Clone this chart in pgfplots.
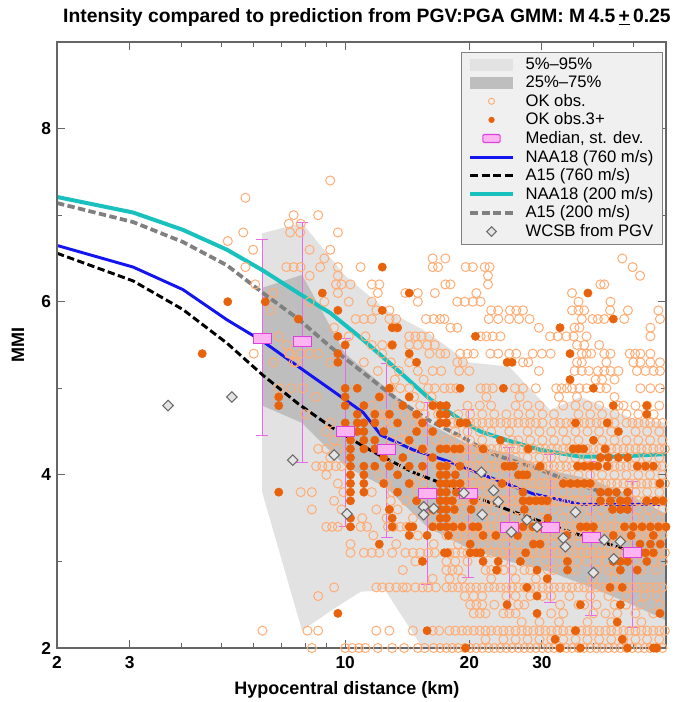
\documentclass[border=0pt]{standalone}
\usepackage{fontspec}
\setmainfont{Liberation Sans}
\usepackage{pgfplots}
\pgfplotsset{compat=1.18}
\definecolor{lightband}{HTML}{E2E2E2}
\definecolor{darkband}{HTML}{BEBEBE}
\definecolor{openor}{HTML}{FFAD75}
\definecolor{fillor}{HTML}{E8620C}
\definecolor{pinkfill}{HTML}{FFB4F2}
\definecolor{pinkedge}{HTML}{E040E0}
\definecolor{errmag}{HTML}{E86AE8}
\definecolor{naablue}{HTML}{1414F0}
\definecolor{naacyan}{HTML}{18C0BE}
\definecolor{agray}{HTML}{808080}
\definecolor{dfill}{HTML}{E4E4E4}
\definecolor{ddraw}{HTML}{6A6A6A}
\definecolor{legfill}{HTML}{F0F0F0}
\begin{document}
\begin{tikzpicture}
\begin{axis}[
  scale only axis, width=456.75pt, height=454.5pt,
  xmode=log, xmin=2, xmax=60, ymin=2, ymax=9,
  xtick={2,3,10,20,30}, xticklabels={2,3,10,20,30},
  minor xtick={4,5,6,7,8,9,40,50},
  ytick={2,4,6,8}, yticklabels={2,4,6,8}, minor ytick={3,5,7},
  tick align=inside, major tick length=6pt, minor tick length=4pt,
  axis on top,
  axis line style={draw=black!60, line width=0.8pt},
  every tick/.style={black!60, line width=0.8pt},
  ticklabel style={font=\fontsize{13}{15}\selectfont\bfseries},
  xticklabel style={yshift=-3pt},
  yticklabel style={xshift=-1pt},
  /pgf/number format/assume math mode=true,
  xlabel={Hypocentral distance (km)}, ylabel={MMI},
  label style={font=\fontsize{13.5}{16}\selectfont\bfseries},
  xlabel style={at={(axis description cs:0.476,-0.069)}, anchor=center},
  ylabel style={at={(axis description cs:-0.064,0.5)}, anchor=center},
  every axis title shift=0pt,
  title={Intensity compared to prediction from PGV:PGA GMM: M\,4.5\,\underline{+}\,0.25},
  title style={font=\fontsize{14.5}{17}\selectfont\bfseries, at={(axis description cs:0.509,1.04)}, anchor=center},
  legend style={at={(0.995,0.983)}, anchor=north east, fill=legfill, draw=black!50,
    font=\fontsize{12.5}{13}\selectfont, inner xsep=5pt, inner ysep=2pt, row sep=-0.6pt,
    /tikz/every odd column/.append style={column sep=6pt}},
  legend cell align=left,
]
% 5%-95% band
\addplot[fill=lightband, draw=none,
  legend image code/.code={\fill[lightband] (0pt,-4.5pt) rectangle (32pt,4.5pt);}]
  coordinates {(6.29,6.79)(7.86,6.91)(10,6.3)(12.6,5.9)(15.8,5.65)(19.9,5.3)(25,5.25)(31.4,4.75)(37.2,4.9)(39.5,4.85)(49.7,4.65)(60,4.6)
  (60,1.5)(18,1.5)(12.5,2.67)(10.9,2.65)(9.3,2.44)(7.86,2.2)(6.29,3.8)} -- cycle;
\addlegendentry{5\%--95\%}
% 25%-75% band
\addplot[fill=darkband, draw=none,
  legend image code/.code={\fill[darkband] (0pt,-4.5pt) rectangle (32pt,4.5pt);}]
  coordinates {(6.29,6.16)(7.86,6.31)(10,5.4)(12.6,5.0)(15.8,4.6)(19.9,4.35)(25,4.25)(31.4,4.05)(39.5,3.95)(49.7,3.75)(60,3.55)
  (60,2.32)(49.7,2.5)(39.5,2.7)(31.4,2.88)(25,3.0)(19.9,3.15)(15.8,3.4)(12.6,3.85)(10,4.1)(7.86,4.6)(6.29,4.8)} -- cycle;
\addlegendentry{25\%--75\%}
% OK obs (open)
\addplot[only marks, mark=o, mark size=3.4pt, color=openor, mark options={line width=0.75pt},
  legend image code/.code={\draw[openor, line width=0.7pt] (16pt,0pt) circle (2.3pt);}]
coordinates {
(5.73,7.2)(5.66,6.8)(5.19,6.7)(5.98,6.6)(5.73,6.4)(6.05,6.2)(6.0,5.4)(6.7,6.1)(6.9,5.6)(7.35,5.4)(6.9,5.0)(7.5,5.3)
(7.5,7.0)(7.3,6.9)(7.8,6.9)(8.6,7.0)(7.35,6.8)(7.78,6.8)(8.2,6.6)(8.9,6.5)(7.2,6.4)(7.5,6.4)(7.8,6.4)(8.7,6.4)(8.2,6.3)(8.2,6.0)(8.9,6.0)(7.2,5.5)(7.3,5.4)(7.8,5.4)(8.2,5.4)(8.6,5.4)(6.7,5.3)(7.6,5.3)
(6.6,5.9)(7.4,5.0)(7.9,5.0)(8.0,4.7)(8.5,4.9)(9.2,7.4)(9.6,6.8)(9.2,6.6)
(8.3,2)(10,2)(10.4,2)(10.8,2)(11.2,2)(12,2)(13,2)(13.9,2)(15,2)(15.6,2)(16.4,2)(17,2)
(17.6,2)(18.2,2)(18.8,2)(19.5,2)(20.1,2)(20.8,2)(21.5,2)(22.3,2)(23,2)(23.8,2)(24.6,2)(25.4,2)(26.3,2)(27.2,2)(28.1,2)(29,2)(30.1,2)(31.1,2)(32.1,2)(33.2,2)(34.4,2)(35.5,2)(36.8,2)(38,2)(39.3,2)(40.7,2)(42,2)(43.5,2)(45,2)(46.5,2)(48.1,2)(49.7,2)(51.4,2)(53.2,2)(54.9,2)(56.8,2)(58.8,2)
(21.9,2.1)(24.2,2.1)(25.9,2.1)(27.7,2.1)(29.6,2.1)(31.6,2.1)(33.8,2.1)(36.2,2.1)(38.7,2.1)(41.3,2.1)(44.2,2.1)(47.3,2.1)(50.6,2.1)(54,2.1)(57.8,2.1)
(6.3,2.2)(8.1,2.2)(8.6,2.2)(11.9,2.2)(12.8,2.2)(14.6,2.2)(16.3,2.2)(16.9,2.2)
(17.9,2.2)(18.5,2.2)(19.2,2.2)(19.8,2.2)(20.5,2.2)(21.2,2.2)(21.9,2.2)(22.6,2.2)(23.4,2.2)(24.2,2.2)(25,2.2)(25.9,2.2)(26.8,2.2)(27.7,2.2)(28.6,2.2)(29.6,2.2)(30.6,2.2)(31.6,2.2)(32.7,2.2)(33.8,2.2)(35,2.2)(36.2,2.2)(37.4,2.2)(38.7,2.2)(40,2.2)(41.3,2.2)(42.8,2.2)(44.2,2.2)(45.7,2.2)(47.3,2.2)(48.9,2.2)(50.6,2.2)(52.3,2.2)(54,2.2)(55.9,2.2)(57.8,2.2)(59.6,2.2)
(26.8,2.3)(29.6,2.3)(33,2.3)(38.7,2.3)(44.2,2.3)(52.3,2.3)
(20.5,2.4)(21.2,2.4)(21.9,2.4)(24.2,2.4)(25,2.4)(25.9,2.4)(31.6,2.4)(33.8,2.4)(40,2.4)(42.8,2.4)(45.7,2.4)(50.6,2.4)(55.9,2.4)
(20.1,2.5)(20.8,2.5)(21.5,2.5)(23,2.5)(26.3,2.5)(27.2,2.5)(33.2,2.5)(36.8,2.5)(38,2.5)(40.7,2.5)(45,2.5)(48,2.5)(52,2.5)(58,2.5)
(8.6,2.6)(19.5,2.6)(20.5,2.6)(21.5,2.6)(24.6,2.6)(25.9,2.6)(28.1,2.6)(30.1,2.6)(31.6,2.6)(35,2.6)(39.3,2.6)(43.5,2.6)(48.1,2.6)(53.2,2.6)(57,2.6)
(9.4,2.7)(11.9,2.7)(12.3,2.7)(12.8,2.7)(13.3,2.7)(13.8,2.7)(14.1,2.7)(14.8,2.7)(15.4,2.7)(15.9,2.7)(16.6,2.7)
(17.6,2.7)(18.2,2.7)(18.8,2.7)(19.5,2.7)(20.1,2.7)(20.8,2.7)(21.5,2.7)(22.3,2.7)(23,2.7)(23.8,2.7)(24.6,2.7)(25.4,2.7)(26.3,2.7)(27.2,2.7)(28.1,2.7)(29,2.7)(30.1,2.7)(31.1,2.7)(32.1,2.7)(33.2,2.7)(34.4,2.7)(35.5,2.7)(36.8,2.7)(38,2.7)(39.3,2.7)(40.7,2.7)(42,2.7)(43.5,2.7)(45,2.7)(46.5,2.7)(48.1,2.7)(49.7,2.7)(51.4,2.7)(53.2,2.7)(54.9,2.7)(56.8,2.7)(58.8,2.7)
(16.3,2.8)(17.9,2.8)(19.2,2.8)(22.6,2.8)(25.9,2.8)(29,2.8)(40,2.8)(45,2.8)
(13.8,2.9)(17.6,2.9)(18.2,2.9)(18.8,2.9)(21.9,2.9)(22.6,2.9)(23.4,2.9)(24.2,2.9)(25.4,2.9)(27.2,2.9)(28.1,2.9)(31,2.9)(32,2.9)(36.2,2.9)(40.7,2.9)(43.5,2.9)(44.9,2.9)(52.3,2.9)(56.8,2.9)
(14.8,3)(17.6,3)(18.5,3)(19.8,3)(24.2,3)(28,3)(30.6,3)(33.2,3)(36.5,3)(38.7,3)(41.3,3)(42.8,3)(50.6,3)(56,3)(59,3)
(10.3,3.1)(11.1,3.1)(11.6,3.1)(12.1,3.1)(13,3.1)(14,3.1)(14.6,3.1)(15.2,3.1)(15.9,3.1)(16.5,3.1)
(17.9,3.1)(18.5,3.1)(19.2,3.1)(19.8,3.1)(20.5,3.1)(21.2,3.1)(21.9,3.1)(22.6,3.1)(23.4,3.1)(24.2,3.1)(25,3.1)(25.9,3.1)(26.8,3.1)(27.7,3.1)(28.6,3.1)(29.6,3.1)(30.6,3.1)(31.6,3.1)(32.7,3.1)(33.8,3.1)(35,3.1)(36.2,3.1)(37.4,3.1)(38.7,3.1)(40,3.1)(41.3,3.1)(42.8,3.1)(44.2,3.1)(45.7,3.1)(47.3,3.1)(48.9,3.1)(50.6,3.1)(52.3,3.1)(54,3.1)(55.9,3.1)(57.8,3.1)(59.6,3.1)
(10.3,3.2)(13.3,3.2)(16.4,3.2)(18.8,3.2)(21.5,3.2)(23,3.2)(24.6,3.2)(26.3,3.2)(30.1,3.2)(32.1,3.2)(34.4,3.2)(36.8,3.2)(39.3,3.2)(42,3.2)(45,3.2)(48.1,3.2)
(11.7,3.3)(15,3.3)
(17.6,3.3)(18.2,3.3)(18.8,3.3)(19.5,3.3)(20.1,3.3)(20.8,3.3)(21.5,3.3)(22.3,3.3)(23,3.3)(23.8,3.3)(24.6,3.3)(25.4,3.3)(26.3,3.3)(27.2,3.3)(28.1,3.3)(29,3.3)(30.1,3.3)(31.1,3.3)(32.1,3.3)(33.2,3.3)(34.4,3.3)(35.5,3.3)(36.8,3.3)(38,3.3)(39.3,3.3)(40.7,3.3)(42,3.3)(43.5,3.3)(45,3.3)(46.5,3.3)(48.1,3.3)(49.7,3.3)(51.4,3.3)(53.2,3.3)(54.9,3.3)(56.8,3.3)(58.8,3.3)
(9,3.4)(9.3,3.4)(9.6,3.4)(10.9,3.4)(11.3,3.4)(12.7,3.4)(13.1,3.4)(13.6,3.4)(14.1,3.4)(16.6,3.4)
(17.9,3.4)(18.5,3.4)(19.2,3.4)(19.8,3.4)(20.5,3.4)(21.2,3.4)(21.9,3.4)(22.6,3.4)(23.4,3.4)(24.2,3.4)(25,3.4)(25.9,3.4)(26.8,3.4)(27.7,3.4)(28.6,3.4)(29.6,3.4)(30.6,3.4)(31.6,3.4)(32.7,3.4)(33.8,3.4)(35,3.4)(36.2,3.4)(37.4,3.4)(38.7,3.4)(40,3.4)(41.3,3.4)(42.8,3.4)(44.2,3.4)(45.7,3.4)(47.3,3.4)(48.9,3.4)(50.6,3.4)(52.3,3.4)(54,3.4)(55.9,3.4)(57.8,3.4)(59.6,3.4)
(11,3.5)(12.6,3.5)(14.6,3.5)(16.3,3.5)(18.5,3.5)(19.8,3.5)(22.6,3.5)(24.2,3.5)(25.9,3.5)(27.7,3.5)(29.6,3.5)(33.8,3.5)(36.2,3.5)(38.7,3.5)(41.3,3.5)(44.2,3.5)(50.6,3.5)(54,3.5)(57.8,3.5)
(8.3,3.6)(9.8,3.6)(11.9,3.6)(13.4,3.6)(15.8,3.6)(18.8,3.6)(21.5,3.6)(23,3.6)(24.6,3.6)(26.3,3.6)(28.1,3.6)(30.1,3.6)(32.1,3.6)(34.4,3.6)(36.8,3.6)(39.3,3.6)(42,3.6)(51.4,3.6)(54.9,3.6)(58.8,3.6)
(9.4,3.7)(12.9,3.7)(14,3.7)(15.1,3.7)
(17.6,3.7)(18.2,3.7)(18.8,3.7)(19.5,3.7)(20.1,3.7)(20.8,3.7)(21.5,3.7)(22.3,3.7)(23,3.7)(23.8,3.7)(24.6,3.7)(25.4,3.7)(26.3,3.7)(27.2,3.7)(28.1,3.7)(29,3.7)(30.1,3.7)(31.1,3.7)(32.1,3.7)(33.2,3.7)(34.4,3.7)(35.5,3.7)(36.8,3.7)(38,3.7)(39.3,3.7)(40.7,3.7)(42,3.7)(43.5,3.7)(45,3.7)(46.5,3.7)(48.1,3.7)(49.7,3.7)(51.4,3.7)(53.2,3.7)(54.9,3.7)(56.8,3.7)(58.8,3.7)
(7.8,3.8)(8.3,3.8)(9.9,3.8)(11.6,3.8)(13,3.8)(14.9,3.8)(16.1,3.8)(19.8,3.8)(21.2,3.8)(22.6,3.8)(24.2,3.8)(25.9,3.8)(29.6,3.8)(31.6,3.8)(33.8,3.8)(36.2,3.8)(38.7,3.8)(50.6,3.8)(54,3.8)(57.8,3.8)
(9.6,3.9)(12.6,3.9)(14.4,3.9)(15.5,3.9)
(17.9,3.9)(18.5,3.9)(19.2,3.9)(19.8,3.9)(20.5,3.9)(21.2,3.9)(21.9,3.9)(22.6,3.9)(23.4,3.9)(24.2,3.9)(25,3.9)(25.9,3.9)(26.8,3.9)(27.7,3.9)(28.6,3.9)(29.6,3.9)(30.6,3.9)(31.6,3.9)(32.7,3.9)(33.8,3.9)(35,3.9)(36.2,3.9)(37.4,3.9)(38.7,3.9)(40,3.9)(41.3,3.9)(42.8,3.9)(44.2,3.9)(45.7,3.9)(47.3,3.9)(48.9,3.9)(50.6,3.9)(52.3,3.9)(54,3.9)(55.9,3.9)(57.8,3.9)(59.6,3.9)
(9,4)(12.1,4)(15.2,4)(20.1,4)(21.5,4)(23,4)(24.6,4)(28.1,4)(30.1,4)(32.1,4)(34.4,4)(36.8,4)(39.3,4)(42,4)(45,4)(48.1,4)(51.4,4)(54.9,4)(58.8,4)
(8.5,4.1)(8.8,4.1)(9.1,4.1)(9.5,4.1)(9.8,4.1)(13.8,4.1)(16.8,4.1)
(17.6,4.1)(18.2,4.1)(18.8,4.1)(19.5,4.1)(20.1,4.1)(20.8,4.1)(21.5,4.1)(22.3,4.1)(23,4.1)(23.8,4.1)(24.6,4.1)(25.4,4.1)(26.3,4.1)(27.2,4.1)(28.1,4.1)(29,4.1)(30.1,4.1)(31.1,4.1)(32.1,4.1)(33.2,4.1)(34.4,4.1)(35.5,4.1)(36.8,4.1)(38,4.1)(39.3,4.1)(40.7,4.1)(42,4.1)(43.5,4.1)(45,4.1)(46.5,4.1)(48.1,4.1)(49.7,4.1)(51.4,4.1)(53.2,4.1)(54.9,4.1)(56.8,4.1)(58.8,4.1)
(9.2,4.2)(12.6,4.2)(16,4.2)(18.5,4.2)(19.8,4.2)(21.2,4.2)(22.6,4.2)(24.2,4.2)(25.9,4.2)(27.7,4.2)(29.6,4.2)(31.6,4.2)(33.8,4.2)(36.2,4.2)(38.7,4.2)(50.6,4.2)(54,4.2)(57.8,4.2)
(8.6,4.3)(9,4.3)(9.6,4.3)(14.6,4.3)(15.5,4.3)
(17.9,4.3)(18.5,4.3)(19.2,4.3)(19.8,4.3)(20.5,4.3)(21.2,4.3)(21.9,4.3)(22.6,4.3)(23.4,4.3)(24.2,4.3)(25,4.3)(25.9,4.3)(26.8,4.3)(27.7,4.3)(28.6,4.3)(29.6,4.3)(30.6,4.3)(31.6,4.3)(32.7,4.3)(33.8,4.3)(35,4.3)(36.2,4.3)(37.4,4.3)(38.7,4.3)(40,4.3)(41.3,4.3)(42.8,4.3)(44.2,4.3)(45.7,4.3)(47.3,4.3)(48.9,4.3)(50.6,4.3)(52.3,4.3)(54,4.3)(55.9,4.3)(57.8,4.3)(59.6,4.3)
(9.4,4.4)(12.9,4.4)(13.6,4.4)(16.6,4.4)(17.6,4.4)(18.8,4.4)(20.1,4.4)(21.5,4.4)(25.4,4.4)(26.3,4.4)(28.1,4.4)(30.1,4.4)(32.1,4.4)(34.4,4.4)(36.8,4.4)(42,4.4)(45,4.4)(48.1,4.4)(51.4,4.4)(54.9,4.4)(58.8,4.4)
(9,4.5)(13.9,4.5)(15.7,4.5)(18.5,4.5)(19.8,4.5)(21.2,4.5)(22.6,4.5)(25,4.5)(27.7,4.5)(29.6,4.5)(31.6,4.5)(33.8,4.5)(36.2,4.5)(38.7,4.5)(41.3,4.5)(44.2,4.5)(50.6,4.5)(54,4.5)(57.8,4.5)
(9.2,4.6)(12.3,4.6)(13,4.6)(14.6,4.6)(15.2,4.6)
(17.6,4.6)(18.2,4.6)(18.8,4.6)(19.5,4.6)(20.1,4.6)(20.8,4.6)(21.5,4.6)(22.3,4.6)(23,4.6)(23.8,4.6)(24.6,4.6)(25.4,4.6)(26.3,4.6)(27.2,4.6)(28.1,4.6)(29,4.6)(30.1,4.6)(32.1,4.6)(33.2,4.6)(34.4,4.6)(35.5,4.6)(36.8,4.6)(38,4.6)(39.3,4.6)(40.7,4.6)(42,4.6)(43.5,4.6)(45,4.6)(48.1,4.6)(49.7,4.6)(51.4,4.6)(53.2,4.6)(54.9,4.6)(56.8,4.6)(58.8,4.6)
(12,4.7)(12.6,4.7)(14,4.7)(15.6,4.7)(16.8,4.7)(18.8,4.7)(20.1,4.7)(21.5,4.7)(23,4.7)(24.6,4.7)(26.3,4.7)(28.1,4.7)(30.1,4.7)(32.1,4.7)(36.8,4.7)(39.3,4.7)(42,4.7)(45,4.7)(48.1,4.7)(51.4,4.7)(56,4.7)
(11.6,4.8)(13.4,4.8)(15.2,4.8)(16.4,4.8)(19.8,4.8)(21.2,4.8)(22.6,4.8)(25.9,4.8)(27.7,4.8)(29.6,4.8)(33.8,4.8)(36.2,4.8)(38.7,4.8)(41.3,4.8)(46,4.8)(47.3,4.8)(50.6,4.8)(54,4.8)(57.8,4.8)
(12.2,4.9)(14.7,4.9)(16.2,4.9)(22,4.9)(26.5,4.9)(33,4.9)(36.5,4.9)(45,4.9)
(12.9,5)(13.6,5)(14.3,5)(15.9,5)(16.5,5)(17.4,5)(18,5)(18.6,5)(21.3,5)(22,5)(22.8,5)(25.8,5)(27,5)(29,5)(32.5,5)(33.5,5)(34.5,5)(35.5,5)(37,5)(38.5,5)(41.5,5)(43,5)(52,5)(55,5)(58,5)
(13.2,5.1)(15.5,5.1)(40.5,5.1)(42,5.1)(45,5.1)
(12,5.2)(13.5,5.2)(15,5.2)(16.3,5.2)(17.1,5.2)(18.9,5.2)(20,5.2)(29.5,5.2)(36,5.2)(37.5,5.2)(39,5.2)(41,5.2)(42.5,5.2)(44,5.2)(46,5.2)(51,5.2)(53.5,5.2)(56,5.2)(58,5.2)
(9.2,5.3)(11.1,5.3)(12.9,5.3)(14.3,5.3)(18.7,5.3)(19.3,5.3)(27,5.3)(27.8,5.3)(36.5,5.3)(37.5,5.3)(43,5.3)(50,5.3)(52,5.3)(55,5.3)(58,5.3)
(12.3,5.4)(16,5.4)(17,5.4)(17.5,5.4)(19,5.4)(19.8,5.4)(20.5,5.4)(22.5,5.4)(23.5,5.4)(25,5.4)(26,5.4)(28.5,5.4)(30,5.4)(31.5,5.4)(37.5,5.4)(38.5,5.4)(39.5,5.4)(42.5,5.4)(44,5.4)(49,5.4)(50.5,5.4)(52,5.4)(55,5.4)
(11.6,5.5)(12.3,5.5)(13,5.5)(14.3,5.5)(15,5.5)(15.8,5.5)(16.5,5.5)(36.5,5.5)(38,5.5)(41.3,5.5)
(10.2,5.6)(11.2,5.6)(14.3,5.6)(14.8,5.6)(15.3,5.6)(16,5.6)(21.3,5.6)(22,5.6)(22.8,5.6)(23.8,5.6)(31.4,5.6)(32.8,5.6)(34.4,5.6)(35.8,5.6)(38.5,5.6)(55,5.6)
(9.4,5.7)(13.3,5.7)(18,5.7)(18.7,5.7)(29.5,5.7)(36,5.7)(37,5.7)(55,5.7)
(10.6,5.8)(11.1,5.8)(11.6,5.8)(12.8,5.8)(13.3,5.8)(15.7,5.8)(16.4,5.8)(17,5.8)(17.4,5.8)(22.3,5.8)(23.5,5.8)(25,5.8)(26.4,5.8)(28,5.8)(37.5,5.8)(39.8,5.8)(41,5.8)(42.5,5.8)(47.5,5.8)(58,5.8)
(11.9,5.9)(12.8,5.9)(22.6,5.9)(23.5,5.9)(25.1,5.9)(26,5.9)(27,5.9)(35.5,5.9)(36.8,5.9)(38,5.9)(43.9,5.9)(48.5,5.9)(57.5,5.9)
(10.2,6)(11.6,6)(15,6)(18.7,6)(19.5,6)(20.4,6)(21.3,6)(36.8,6)(44,6)
(9.6,6.1)(12,6.1)(14,6.1)(15,6.1)(16.5,6.1)(20.8,6.1)(35.5,6.1)
(9.5,6.2)(9.8,6.2)(10.3,6.2)(11.6,6.2)(12.1,6.2)(17.5,6.2)(18,6.2)(22.2,6.2)(41.6,6.2)(42.5,6.2)
(9.6,6.3)(22.2,6.3)(51.9,6.3)
(9.6,6.4)(10.9,6.4)(16.3,6.4)(16.8,6.4)(19.6,6.4)(20.4,6.4)(21.8,6.4)(22.4,6.4)(49.8,6.4)
(16.3,6.5)(17.5,6.5)(47,6.5)
};
\addlegendentry{OK obs.}
% OK obs 3+ (filled)
\addplot[only marks, mark=*, mark size=3.1pt, color=fillor, mark options={draw=fillor, fill=fillor},
  legend image code/.code={\fill[fillor] (16pt,0pt) circle (2.1pt);}]
coordinates {
(5.19,6.0)(4.5,5.4)(6.4,6.0)(7.7,5.8)(6.9,4.9)(6.9,4.8)(6.9,3.8)(8.8,6.1)(9.6,5.9)(9.6,5.6)(9.6,5.4)(9.6,5.3)(9.6,2.4)(12.3,6.4)(14.3,6.1)(12.3,5.9)(13,5.7)(13.4,5.7)(13,5.5)
(10,5.5)(10,5.0)(10,4.9)(10,4.8)(10,4.6)
(10.3,4.5)(10.3,4.4)(10.3,4.3)(10.3,4.2)(10.3,4.1)(10.3,4.0)(10.3,3.9)(10.3,3.8)(10.3,3.7)(10.3,3.5)(10.3,3.4)
(10.7,5.0)(10.7,4.7)(10.7,4.6)(10.7,4.5)
(11.1,4.8)(11.1,4.6)(11.1,4.5)(11.1,4.4)(11.1,4.3)(11.1,4.1)(11.1,4.0)(11.1,3.9)(11.1,3.8)
(11.8,4.7)(11.8,4.6)(11.8,4.4)(11.8,4.3)(11.8,4.1)
(12.1,3.2)(12.1,4.9)(12.4,4.5)(12.4,4.2)(12.4,3.9)
(12.8,5.0)(12.8,4.7)(12.8,4.3)(12.8,4.1)(12.8,3.6)(13,3.5)(13,3.4)
(13.4,4.6)(13.4,4.0)(13.4,3.8)(13.8,4.8)(13.8,4.2)
(14.3,5.4)(14.3,4.9)(14.3,4.4)(14.3,4.1)(14.3,3.9)(14.3,3.3)(14.3,3.4)(14.6,3.4)
(14.9,5.3)(14.9,4.7)(14.9,4.5)(14.9,3.7)
(15.4,4.6)(15.4,4.3)(15.4,4.1)(15.4,3.0)(15.8,2.2)(15.8,3.3)
(16.3,4.8)(16.3,4.5)(16.3,4.2)(16.3,3.8)(16.3,3.6)(16.3,3.4)(17.7,3.1)
(17.8,3.3)(21.6,3.3)(23.2,3.3)(26.2,3.3)(34.5,3.3)(40,3.3)(44.7,3.3)(49.4,3.3)(55.9,3.3)
(20.1,3.2)(28.6,3.2)(29.7,3.2)(51.9,3.2)(55,3.2)(58.1,3.2)
(17.4,3.1)(20.1,3.1)(20.8,3.1)(21.3,3.1)(27.4,3.1)(51.9,3.1)(53.5,3.1)(55.9,3.1)
(21.6,3.0)(23.5,3.0)(26.6,3.0)(34.6,3.0)(44.7,3.0)(46.5,3.0)(48.4,3.0)(53.9,3.0)
(23.3,2.9)(29.2,2.9)(34.6,2.9)(46.5,2.9)(51.1,2.9)
(30.9,2.8)(27.6,2.7)(43.9,2.7)(47,2.7)(29.2,2.6)(24.7,2.5)(37.2,2.5)(46.5,2.5)(29.2,2.4)(58,2.4)(45.7,2.3)(36.2,2.2)(32.3,2.1)(47,2.1)
(19.6,2.0)(33.2,2.0)(37.2,2.0)(48.4,2.0)(55.9,2.0)(57,2.0)
(17,4.8)(17.6,4.8)(53.9,4.8)(44.7,4.8)(17,4.7)(17.6,4.7)(53.9,4.7)
(17,4.6)(17.6,4.6)(19,4.6)(19.7,4.6)(36.2,4.6)(43.2,4.6)(46,4.5)(23.8,4.4)(40,4.4)
(17,4.3)(17.6,4.3)(18.4,4.3)(19,4.3)(21.6,4.3)(27.8,4.3)(35.7,4.3)(36.8,4.3)(37.9,4.3)(42.7,4.3)
(41.6,4.2)(43.5,4.2)(46,4.2)(48.4,4.2)
(17,4.1)(17.6,4.1)(19,4.1)(24.4,4.1)(25,4.1)(25.6,4.1)(29.7,4.1)(36.6,4.1)(38,4.1)(39.5,4.1)(41,4.1)(43.2,4.1)(51.1,4.1)(53.5,4.1)(55.9,4.1)
(17,4.0)(17.6,4.0)(18.5,4.0)(26.3,4.0)(27,4.0)(27.6,4.0)
(17,3.9)(17.6,3.9)(18.3,3.9)(19,3.9)(24,3.9)(33.8,3.9)(35.2,3.9)(36.6,3.9)(38,3.9)(39.3,3.9)(58,3.9)
(17,3.8)(17.6,3.8)(18.6,3.8)(27,3.8)(41.6,3.8)(43.5,3.8)(45.5,3.8)(48.4,3.8)
(17,3.7)(17.6,3.7)(18.2,3.7)(20.5,3.7)(27,3.7)(28,3.7)(29,3.7)(30,3.7)(30.9,3.7)(41.6,3.7)(44,3.7)(46.5,3.7)(48.4,3.7)(53.9,3.7)(56.5,3.7)(59,3.7)
(17,3.6)(17.6,3.6)(18.4,3.6)(20.2,3.6)(27.2,3.6)(44.5,3.6)(46.5,3.6)(48.4,3.6)
(17,3.5)(17.6,3.5)(31,3.5)
(17,3.4)(17.6,3.4)(18.3,3.4)(19.2,3.4)(20.4,3.4)(21,3.4)(27,3.4)(28.5,3.4)(29.7,3.4)(37.2,3.4)(38.5,3.4)(40,3.4)(47.6,3.4)(50,3.4)(52.5,3.4)(55,3.4)(57.5,3.4)(60,3.4)
(19,5.0)(24.2,5.0)(40,5.0)(35.1,5.1)(24.7,5.3)(25.4,5.3)(35.1,5.4)(20.7,5.6)(33.2,5.7)(44.7,5.8)(38.8,6.1)
};
\addlegendentry{OK obs.3+}
% Median and st. dev.
\addplot[only marks, mark=square*, mark size=3.75pt,
  mark options={xscale=1.8, fill=pinkfill, draw=pinkedge, line width=0.8pt},
  legend image code/.code={\draw[pinkedge, fill=pinkfill, line width=0.8pt, rounded corners=1pt] (9.5pt,-3pt) rectangle (22.5pt,3pt);},
  error bars/.cd, y dir=both, y explicit,
  error bar style={color=errmag, line width=0.7pt},
  error mark options={color=errmag, mark size=4.5pt, line width=0.7pt, rotate=90},
  ]
  coordinates {
  (6.29,5.58) += (0,1.14) -= (0,1.12)
  (7.86,5.54) += (0,1.38) -= (0,1.40)
  (10,4.5) += (0,1.07) -= (0,1.10)
  (12.6,4.29) += (0,1.00) -= (0,1.01)
  (15.8,3.79) += (0,1.05) -= (0,1.06)
  (19.9,3.79) += (0,0.96) -= (0,0.97)
  (25,3.39) += (0,0.93) -= (0,0.95)
  (31.4,3.39) += (0,0.85) -= (0,0.86)
  (39.5,3.28) += (0,0.87) -= (0,0.90)
  (49.7,3.1) += (0,0.82) -= (0,0.86)
  };
\addlegendentry{Median, st. dev.}
% NAA18 760
\addplot[naablue, line width=2.2pt,
  legend image code/.code={\draw[naablue, line width=2.2pt] (0pt,0pt) -- (32pt,0pt);}]
  coordinates {(2,6.65)(3.06,6.40)(4.04,6.14)(5.17,5.79)(6.32,5.54)(7.7,5.25)(9.2,4.99)(11.06,4.72)(12.2,4.46)(14.6,4.29)(17.7,4.16)(21.6,4.0)(28.6,3.78)(37.2,3.66)(45,3.66)(60,3.66)};
\addlegendentry{NAA18 (760 m/s)}
% A15 760
\addplot[black, line width=2.2pt, dash pattern=on 5.5pt off 2.6pt,
  legend image code/.code={\draw[black, line width=2.2pt, dash pattern=on 6pt off 2.6pt] (0pt,0pt) -- (32pt,0pt);}]
  coordinates {(2,6.56)(3.06,6.24)(4.04,5.91)(5.17,5.52)(6.32,5.15)(7.7,4.82)(9.2,4.56)(11.06,4.33)(12.2,4.22)(14.6,4.03)(19,3.82)(24.7,3.60)(35.7,3.33)(49.2,3.12)};
\addlegendentry{A15 (760 m/s)}
% NAA18 200
\addplot[naacyan, line width=3pt,
  legend image code/.code={\draw[naacyan, line width=3pt] (0pt,0pt) -- (32pt,0pt);}]
  coordinates {(2,7.21)(3.06,7.03)(4.04,6.83)(5.17,6.60)(6.32,6.36)(7.7,6.1)(9.2,5.87)(11.06,5.56)(13.4,5.21)(16.1,4.87)(19,4.64)(21.3,4.50)(24.7,4.40)(29.7,4.29)(37.2,4.21)(45,4.21)(60,4.24)};
\addlegendentry{NAA18 (200 m/s)}
% A15 200
\addplot[agray, line width=2.8pt, dash pattern=on 5.5pt off 2.6pt,
  legend image code/.code={\draw[agray, line width=2.8pt, dash pattern=on 6pt off 2.6pt] (0pt,0pt) -- (32pt,0pt);}]
  coordinates {(2,7.14)(3.06,6.92)(4.04,6.69)(5.17,6.42)(6.32,6.10)(7.7,5.8)(9.2,5.48)(11.06,5.18)(13.37,4.87)(16.1,4.62)(19,4.45)(22.5,4.25)(29.7,4.06)(35.7,3.91)(49.5,3.69)};
\addlegendentry{A15 (200 m/s)}
% WCSB from PGV
\addplot[only marks, mark=square*, mark size=2.8pt,
  mark options={rotate=45, fill=dfill, draw=ddraw, line width=0.8pt},
  legend image code/.code={\draw[ddraw, fill=dfill, line width=0.8pt] (16pt,3.6pt) -- (19.6pt,0pt) -- (16pt,-3.6pt) -- (12.4pt,0pt) -- cycle;}]
  coordinates {(3.72,4.8)(5.31,4.9)(7.46,4.17)(9.4,4.23)(10.1,3.55)(15.5,3.63)(16.4,3.61)(15.5,3.54)(19.4,3.79)(21.4,4.03)(22.9,3.82)(23.5,3.69)(21.5,3.54)(25.3,3.34)(27.6,3.48)(29.2,3.40)(33.8,3.27)(34.2,3.17)(36.2,3.57)(40,2.87)(42.5,3.25)(44.8,3.03)(46.5,3.23)};
\addlegendentry{WCSB from PGV}
\end{axis}
\pgfresetboundingbox
\path[use as bounding box] (-42.75pt,-40.5pt) rectangle (462.75pt,486pt);
\end{tikzpicture}
\end{document}
